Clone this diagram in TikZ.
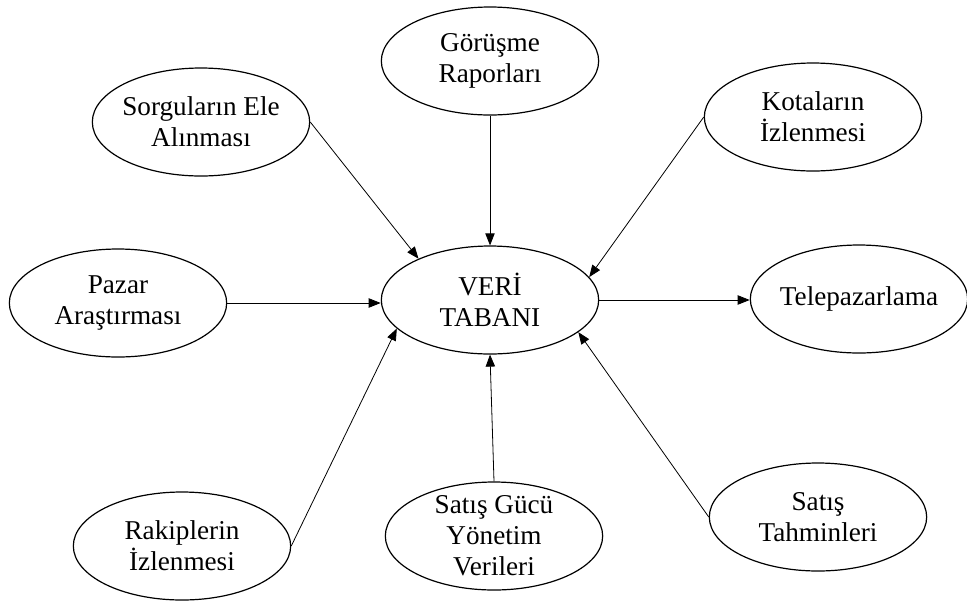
\documentclass[tikz,border=0pt]{standalone}
\usepackage{fontspec}
\setmainfont{Liberation Serif}
\usetikzlibrary{shapes.geometric,arrows.meta}

\begin{document}
\begin{tikzpicture}[x=0.75pt,y=-0.75pt,
  bubble/.style={draw, ellipse, line width=0.9pt, inner sep=0pt,
                 minimum width=163pt, minimum height=81pt},
  caption/.style={align=center, inner sep=0pt,
                  font=\fontsize{20.4}{23.2}\selectfont},
  feed/.style={line width=0.6pt, -{Triangle[length=9pt,width=7pt]}}]

\useasboundingbox (0,0) rectangle (967,601);

% outline ellipses
\node[bubble] (gor)   at (490,61)  {};
\node[bubble] (sorg)  at (201,122) {};
\node[bubble] (kota)  at (813,117) {};
\node[bubble] (pazar) at (118,303) {};
\node[bubble] (veri)  at (490,300) {};
\node[bubble] (tele)  at (859,299) {};
\node[bubble] (rak)   at (182,546) {};
\node[bubble] (sgy)   at (494,536) {};
\node[bubble] (stah)  at (818,517) {};

% texts inside the ellipses
\node[caption] (gor-t)   at (gor)   {Görüşme\\Raporları};
\node[caption] (sorg-t)  at (sorg)  {Sorguların Ele\\Alınması};
\node[caption] (kota-t)  at (kota)  {Kotaların\\İzlenmesi};
\node[caption] (pazar-t) at (pazar) {Pazar\\Araştırması};
\node[caption] (veri-t)  at (veri)  {VERİ\\TABANI};
\node[caption] (tele-t)  at (tele)  {Telepazarlama};
\node[caption] (rak-t)   at (rak)   {Rakiplerin\\İzlenmesi};
\node[caption] (sgy-t)   at (sgy)   {Satış Gücü\\Yönetim\\Verileri};
\node[caption] (stah-t)  at (stah)  {Satış\\Tahminleri};

% data flows into and out of the database
\draw[feed] (sorg.east)  -- (veri.150);
\draw[feed] (gor.south)  -- (veri.north);
\draw[feed] (kota.west)  -- (veri.13);
\draw[feed] (pazar.east) -- (pazar.east -| veri.west);
\draw[feed] (veri.east)  -- (veri.east -| tele.west);
\draw[feed] (rak.east)   -- (veri.197);
\draw[feed] (sgy.north)  -- (veri.south);
\draw[feed] (stah.west)  -- (veri.340);
\end{tikzpicture}
\end{document}
